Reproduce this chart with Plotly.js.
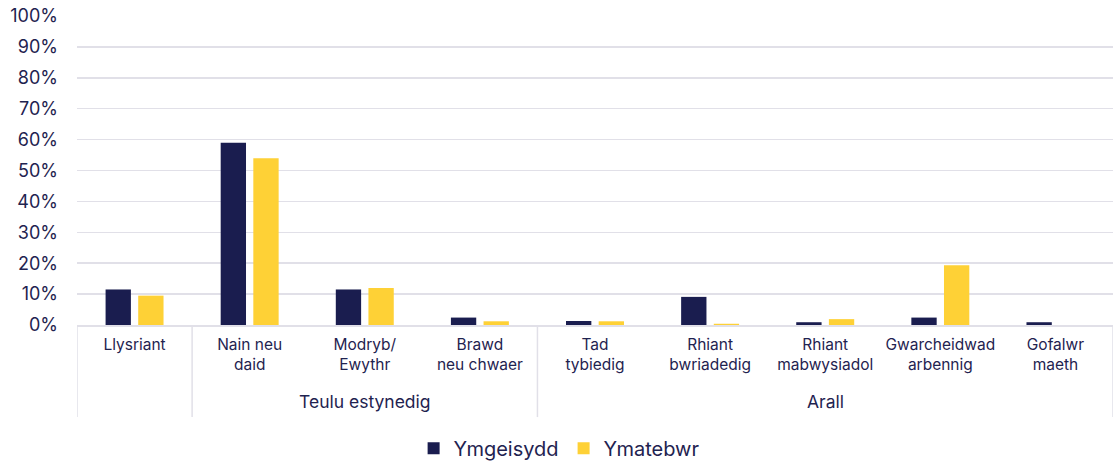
<!DOCTYPE html>
<html>
<head>
<meta charset="utf-8">
<script src="https://cdn.plot.ly/plotly-3.0.1.min.js"></script>
<style>html,body{margin:0;padding:0;background:#fff;}#chart{width:1116px;height:463px;}</style>
</head>
<body>
<div id="chart"></div>
<script>
// Data
const categories = ["Llysriant", "Nain neu daid", "Modryb/ Ewythr", "Brawd neu chwaer", "Tad tybiedig", "Rhiant bwriadedig", "Rhiant mabwysiadol", "Gwarcheidwad arbennig", "Gofalwr maeth"];
const tickLabels = ["Llysriant", "Nain neu<br>daid", "Modryb/<br>Ewythr", "Brawd<br>neu chwaer", "Tad<br>tybiedig", "Rhiant<br>bwriadedig", "Rhiant<br>mabwysiadol", "Gwarcheidwad<br>arbennig", "Gofalwr<br>maeth"];
const ymgeisydd = [11.5, 59, 11.5, 2.4, 1.3, 9.1, 0.9, 2.4, 0.9];
const ymatebwr = [9.5, 54, 12, 1.2, 1.2, 0.4, 1.9, 19.3, 0];
const groupLabels = ["Teulu estynedig", "Arall"];
const groupCenters = [2, 6];
const groupBoundaries = [-0.5, 0.5, 3.5, 8.5];

const navy = "#1a1d4f";
const yellow = "#fed136";
const textColor = "#1f2350";
const gridColor = "#e1e0e8";
const font = "Inter, 'Noto Sans', sans-serif";

const idx = categories.map((c, i) => i);

const traces = [
  {type: "bar", name: "Ymgeisydd", x: idx, y: ymgeisydd, marker: {color: navy}, hoverinfo: "skip"},
  {type: "bar", name: "Ymatebwr", x: idx, y: ymatebwr, marker: {color: yellow}, hoverinfo: "skip"}
];

const shapes = groupBoundaries.map(b => ({
  type: "line", xref: "x", yref: "paper", x0: b, x1: b, y0: 0, y1: -0.298,
  line: {color: gridColor, width: 1.5}, layer: "below"
}));

const annotations = groupLabels.map((g, i) => ({
  text: g, xref: "x", yref: "paper", x: groupCenters[i], y: -0.249,
  yanchor: "middle", xanchor: "center", showarrow: false,
  font: {family: font, size: 17.5, color: textColor}
}));

const layout = {
  width: 1116, height: 463,
  margin: {l: 77, r: 3, t: 16, b: 138},
  paper_bgcolor: "#fff", plot_bgcolor: "#fff",
  barmode: "group", bargap: 0.433, bargroupgap: 0.224,
  font: {family: font, color: textColor, size: 15},
  xaxis: {
    type: "linear", range: [-0.5, 8.5], tickvals: idx, ticktext: tickLabels,
    showgrid: false, zeroline: false, showline: true, linecolor: gridColor, linewidth: 1.5,
    ticks: "", ticklabelstandoff: 5,
    tickfont: {family: font, size: 15.5, color: textColor}
  },
  yaxis: {
    range: [0, 100], dtick: 10, ticksuffix: "%", showgrid: true, gridcolor: gridColor, gridwidth: 1.5,
    zeroline: false, showline: false, ticks: "", ticklabelstandoff: 18,
    tickfont: {family: font, size: 18, color: textColor}
  },
  showlegend: true,
  legend: {orientation: "h", x: 0.501, xref: "container", xanchor: "center",
    y: 0.032, yref: "container", yanchor: "middle",
    font: {family: font, size: 20, color: textColor}, itemwidth: 30, traceorder: "normal"},
  shapes: shapes,
  annotations: annotations
};

Plotly.newPlot("chart", traces, layout, {displayModeBar: false, staticPlot: true});
</script>
</body>
</html>
